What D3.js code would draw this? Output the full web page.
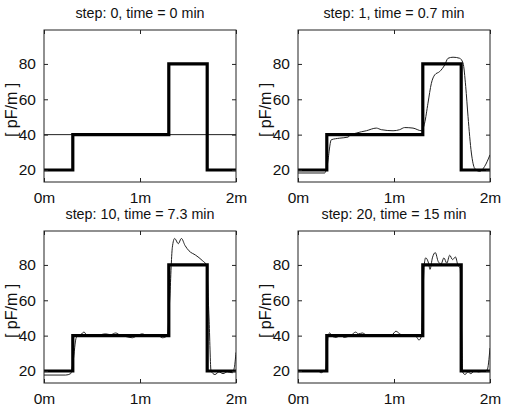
<!DOCTYPE html>
<html>
<head>
<meta charset="utf-8">
<script src="https://cdn.jsdelivr.net/npm/d3@7"></script>
<style>
  body { margin: 0; background: #fff; }
  text { font-family: "Liberation Sans", Arial, sans-serif; fill: #111; }
</style>
</head>
<body>
<div id="canvas"></div>
<script>
// reference profile (thick) and estimates at each step (thin)
const xTickValues = [0, 1, 2];
const xTickLabels = ["0m", "1m", "2m"];
const yTickValues = [20, 40, 60, 80];
const titles = ["step: 0, time = 0 min", "step: 1, time = 0.7 min",
                "step: 10, time = 7.3 min", "step: 20, time = 15 min"];

const trueX = [0, 0.3, 1.3, 1.7, 2];
const trueY = [20, 40, 80, 20, 20];

const step0X = [0, 2];
const step0Y = [40, 40];

const step1X = [0, 0.278, 0.302, 0.347, 0.434, 0.521, 0.538, 0.608, 0.712, 0.816, 0.868, 0.99, 1.059, 1.111, 1.198, 1.285, 1.319, 1.354, 1.389, 1.424, 1.476, 1.528, 1.563, 1.615, 1.684, 1.719, 1.747, 1.771, 1.806, 1.84, 1.892, 1.944, 2.0];
const step1Y = [18.3, 18.3, 22, 37.1, 38, 38.6, 39.4, 40.9, 42.2, 43.7, 42.8, 42.2, 42.8, 44, 43.7, 42.2, 46.5, 57.8, 69, 73.8, 75.7, 79.4, 83.2, 83.8, 83.2, 80.5, 67.2, 50.3, 29.6, 21, 19.2, 22, 28.6];

const step10X = [0, 0.226, 0.278, 0.302, 0.337, 0.382, 0.417, 0.451, 0.538, 0.642, 0.694, 0.747, 0.799, 0.851, 0.92, 0.972, 1.024, 1.076, 1.128, 1.181, 1.233, 1.285, 1.309, 1.337, 1.361, 1.399, 1.431, 1.469, 1.51, 1.58, 1.649, 1.691, 1.719, 1.74, 1.781, 1.823, 1.865, 1.91, 1.962, 1.983, 2.0];
const step10Y = [17.7, 17.7, 18.5, 25, 39, 40.5, 42, 40, 40, 41, 40.5, 41.5, 40, 39.5, 38.8, 40, 41, 40, 40, 40.5, 38.8, 40, 60, 90, 95, 92, 95, 91, 88, 85.5, 82.5, 80, 50, 20, 18, 19.5, 18.5, 19.5, 19, 22, 30.5];

const step20X = [0, 0.21, 0.24, 0.27, 0.29, 0.305, 0.315, 0.33, 0.36, 0.4, 0.44, 0.48, 0.52, 0.56, 0.6, 0.63, 0.67, 0.71, 0.8, 0.9, 0.98, 1.02, 1.06, 1.1, 1.18, 1.23, 1.26, 1.285, 1.3, 1.315, 1.33, 1.36, 1.375, 1.4, 1.43, 1.46, 1.49, 1.52, 1.55, 1.58, 1.61, 1.64, 1.665, 1.69, 1.705, 1.715, 1.74, 1.77, 1.8, 1.84, 1.88, 1.93, 1.97, 2.0];
const step20Y = [20, 20, 19, 20, 21, 35, 40.5, 41.5, 39.5, 39, 40.5, 39, 39.5, 40.5, 42, 41, 41.5, 40.5, 40, 40, 40.5, 42.5, 41, 40, 40, 39.5, 37.5, 39.5, 60, 80, 84, 81, 77.5, 84, 87, 82, 80.5, 84, 81, 85.5, 83, 84.5, 80, 78, 40, 19.5, 18, 19.5, 18.5, 20, 19.5, 20, 20.5, 33];

const estimates = [[step0X, step0Y], [step1X, step1Y], [step10X, step10Y], [step20X, step20Y]];

const width = 507;
const height = 406;
const pw = 192, ph = 152;
const origins = [[44, 30], [298, 30], [44, 231], [298, 231]];

const svg = d3.select("#canvas").append("svg")
    .attr("width", width)
    .attr("height", height);

const x = d3.scaleLinear().domain([0, 2]).range([0, pw]);
const y = d3.scaleLinear().domain([13.2, 99.2]).range([ph, 0]);

const toPts = (xs, ys) => xs.map((v, i) => [v, ys[i]]);

origins.forEach((o, k) => {
    const g = svg.append("g").attr("transform", `translate(${o[0]},${o[1]})`);

    g.append("clipPath").attr("id", "clip" + k)
      .append("rect").attr("width", pw).attr("height", ph);

    const plot = g.append("g").attr("clip-path", `url(#clip${k})`);

    const thin = d3.line().x(d => x(d[0])).y(d => y(d[1]))
        .curve(k === 0 ? d3.curveLinear : d3.curveMonotoneX);
    plot.append("path")
      .datum(toPts(estimates[k][0], estimates[k][1]))
      .attr("d", thin)
      .attr("fill", "none")
      .attr("stroke", "#222")
      .attr("stroke-width", 1);

    const thick = d3.line().x(d => x(d[0])).y(d => y(d[1])).curve(d3.curveStepAfter);
    plot.append("path")
      .datum(toPts(trueX, trueY))
      .attr("d", thick)
      .attr("fill", "none")
      .attr("stroke", "#000")
      .attr("stroke-width", 3.2);

    // box
    g.append("rect")
      .attr("width", pw).attr("height", ph)
      .attr("fill", "none").attr("stroke", "#222").attr("stroke-width", 1);

    // ticks inside, MATLAB style
    const xb = d3.axisBottom(x).tickValues(xTickValues).tickSizeInner(-4).tickSizeOuter(0)
        .tickFormat((d, i) => xTickLabels[i]).tickPadding(10);
    const xa = g.append("g").attr("transform", `translate(0,${ph})`).call(xb);
    const xt = g.append("g").call(d3.axisTop(x).tickValues(xTickValues).tickSizeInner(-4).tickSizeOuter(0).tickFormat(""));
    const yl = d3.axisLeft(y).tickValues(yTickValues).tickSizeInner(-4).tickSizeOuter(0).tickPadding(8);
    const ya = g.append("g").call(yl);
    const yr = g.append("g").attr("transform", `translate(${pw},0)`)
        .call(d3.axisRight(y).tickValues(yTickValues).tickSizeInner(-4).tickSizeOuter(0).tickFormat(""));

    [xa, xt, ya, yr].forEach(a => {
        a.select(".domain").remove();
        a.selectAll("line").attr("stroke", "#222");
        a.selectAll("text").style("font-size", "15.5px")
          .style("font-family", "'Liberation Sans', Arial, sans-serif").attr("fill", "#111");
    });

    g.append("text")
      .attr("x", pw / 2)
      .attr("y", -12)
      .attr("text-anchor", "middle")
      .style("font-size", "14.3px")
      .text(titles[k]);

    g.append("text")
      .attr("transform", `translate(-27,${ph / 2 + 4}) rotate(-90)`)
      .attr("text-anchor", "middle")
      .style("font-size", "16px")
      .text("[ pF/m ]");
});
</script>
</body>
</html>
